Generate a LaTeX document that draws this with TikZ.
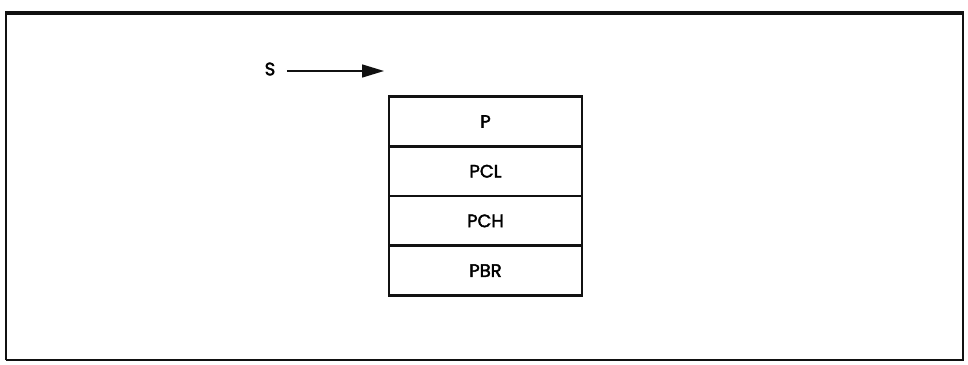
\documentclass[tikz,border=0pt]{standalone}
\usepackage{fontspec}
\setmainfont{Poppins}
\newfontfamily\regfont{Poppins}[FakeBold=2.2]
\usetikzlibrary{arrows.meta}
\definecolor{StackLine}{HTML}{111111}
\definecolor{StackText}{HTML}{000000}
\tikzset{
  regtext/.style={text=StackText,font=\regfont\fontsize{18}{18}\selectfont},
  reg/.style={regtext,draw=StackLine,line width=2.5pt,minimum width=193pt,minimum height=50pt,
    inner sep=0pt},
}

\begin{document}
\begin{tikzpicture}[x=1pt,y=-1pt]
    \useasboundingbox (0,0) rectangle (968,364);
    \draw[StackLine,line width=2pt] (6,360) -- (6,13) (963,13) -- (963,360) -- (6,360);
    \draw[StackLine,line width=4pt] (5,13) -- (964,13);

    \foreach \i/\lab in {0/P,1/PCL,2/PCH,3/PBR} {
      \node[reg] (r\i) at (485.5,{121.5+\i*49.7}) {\lab};
    }

    \node[regtext] (sp) at (270,69) {S};
    \coordinate (sptip) at (384,71);
    \draw[StackLine,line width=1.5pt,-{Triangle[length=22pt,width=13pt]}] (sp.east) ++(8,2) -- (sptip);
  \end{tikzpicture}
\end{document}
